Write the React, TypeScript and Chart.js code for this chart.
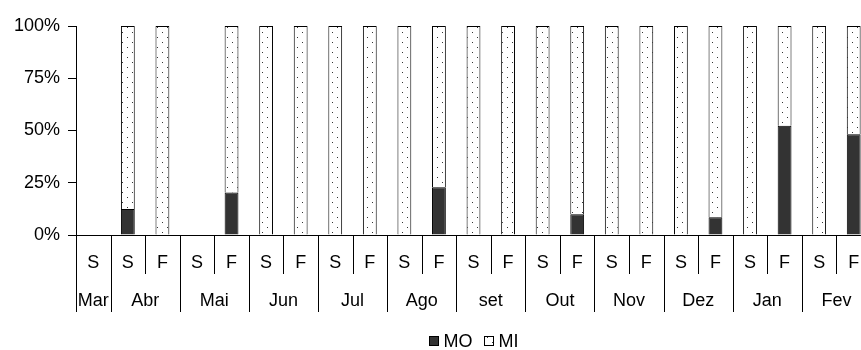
import React, { useEffect, useRef } from "react";
import { Chart, registerables } from "chart.js";

Chart.register(...registerables);

// Sampling periods (S / F) and the month each one belongs to
const periods = ["S", "S", "F", "S", "F", "S", "F", "S", "F", "S", "F", "S", "F", "S", "F", "S", "F", "S", "F", "S", "F", "S", "F"];
const periodMonths = ["Mar", "Abr", "Abr", "Mai", "Mai", "Jun", "Jun", "Jul", "Jul", "Ago", "Ago", "set", "set", "Out", "Out", "Nov", "Nov", "Dez", "Dez", "Jan", "Jan", "Fev", "Fev"];

// Share of each fraction (%)
const moValues = [null, 12.5, 0, null, 20.3, 0, 0, 0, 0, 0, 22.9, 0, 0, 0, 9.9, 0, 0, 0, 8.5, 0, 52.3, 0, 48.2];
const miValues = [null, 87.5, 100, null, 79.7, 100, 100, 100, 100, 100, 77.1, 100, 100, 100, 90.1, 100, 100, 100, 91.5, 100, 47.7, 100, 51.8];

const yTicks = [0, 25, 50, 75, 100];

const FONT = '"Liberation Sans", Arial, sans-serif';
const FONT_SIZE = 18;

function makeDotPattern(): CanvasPattern | string {
  const c = document.createElement("canvas");
  c.width = 10;
  c.height = 10;
  const g = c.getContext("2d");
  if (!g) return "#fff";
  g.fillStyle = "#ffffff";
  g.fillRect(0, 0, 10, 10);
  g.fillStyle = "#333333";
  g.fillRect(2, 2, 1, 1);
  g.fillRect(7, 7, 1, 1);
  const p = g.createPattern(c, "repeat");
  return p || "#fff";
}

// Two-level category axis (period / month) plus a legend centred under the plot
const groupedAxisPlugin = {
  id: "groupedAxis",
  afterDraw(chart: any) {
    const { ctx, chartArea } = chart;
    const xs = chart.scales.x;
    const n = periods.length;
    const step = xs.getPixelForValue(1) - xs.getPixelForValue(0);
    const left = xs.getPixelForValue(0) - step / 2;
    const base = chartArea.bottom;
    const shortEnd = base + 39;
    const longEnd = base + 77;

    ctx.save();
    ctx.strokeStyle = "#000";
    ctx.lineWidth = 1;
    for (let i = 0; i <= n; i++) {
      const x = Math.round(left + i * step) + 0.5;
      const isMonthEdge = i === 0 || i === n || periodMonths[i - 1] !== periodMonths[i];
      ctx.beginPath();
      ctx.moveTo(x, base);
      ctx.lineTo(x, isMonthEdge ? longEnd : shortEnd);
      ctx.stroke();
    }

    ctx.fillStyle = "#000";
    ctx.font = `${FONT_SIZE}px ${FONT}`;
    ctx.textAlign = "center";
    ctx.textBaseline = "middle";
    for (let i = 0; i < n; i++) {
      ctx.fillText(periods[i], xs.getPixelForValue(i), base + 28);
    }
    let start = 0;
    for (let i = 1; i <= n; i++) {
      if (i === n || periodMonths[i] !== periodMonths[start]) {
        const cx = (xs.getPixelForValue(start) + xs.getPixelForValue(i - 1)) / 2;
        ctx.fillText(periodMonths[start], cx, base + 66);
        start = i;
      }
    }

    // legend
    const box = 10;
    const gap = 5;
    const itemGap = 11;
    const items = chart.data.datasets.map((d: any) => ({
      label: d.label,
      fill: d.backgroundColor,
    }));
    const widths = items.map((it: any) => box + gap + ctx.measureText(it.label).width);
    const total = widths.reduce((a: number, b: number) => a + b, 0) + itemGap * (items.length - 1);
    let lx = (chartArea.left + chartArea.right) / 2 - total / 2;
    const ly = 341;
    ctx.textAlign = "left";
    items.forEach((it: any, k: number) => {
      ctx.fillStyle = it.fill;
      ctx.fillRect(Math.round(lx), ly - box / 2, box, box);
      ctx.strokeStyle = "#000";
      ctx.strokeRect(Math.round(lx) + 0.5, ly - box / 2 + 0.5, box - 1, box - 1);
      ctx.fillStyle = "#000";
      ctx.fillText(it.label, lx + box + gap, ly + 1);
      lx += widths[k] + itemGap;
    });
    ctx.restore();
  },
};

export default function App() {
  const canvasRef = useRef<HTMLCanvasElement | null>(null);

  useEffect(() => {
    const canvas = canvasRef.current;
    if (!canvas) return;
    const dots = makeDotPattern();
    const chart = new Chart(canvas, {
      type: "bar",
      data: {
        labels: periods.map((p, i) => `${periodMonths[i]} ${p}`),
        datasets: [
          {
            label: "MO",
            data: moValues,
            backgroundColor: "#333333",
            borderColor: "#000000",
            borderWidth: 1,
            barPercentage: 0.4,
            categoryPercentage: 1,
          },
          {
            label: "MI",
            data: miValues,
            backgroundColor: dots as any,
            borderColor: "#000000",
            borderWidth: 1,
            barPercentage: 0.4,
            categoryPercentage: 1,
          },
        ],
      },
      options: {
        animation: false,
        responsive: false,
        devicePixelRatio: 1,
        layout: { padding: { top: 26, right: 0, bottom: 0, left: 0 } },
        plugins: {
          legend: { display: false },
          tooltip: { enabled: false },
        },
        scales: {
          x: {
            stacked: true,
            grid: { display: false },
            border: { display: true, color: "#000", width: 1 },
            ticks: { display: false },
            afterFit: (s: any) => {
              s.height = 115;
            },
          },
          y: {
            stacked: true,
            min: 0,
            max: 100,
            afterBuildTicks: (s: any) => {
              s.ticks = yTicks.map((v) => ({ value: v }));
            },
            afterFit: (s: any) => {
              s.width = 76;
            },
            grid: {
              drawOnChartArea: false,
              drawTicks: true,
              tickLength: 8,
              color: "#000",
            },
            border: { display: true, color: "#000", width: 1 },
            ticks: {
              padding: 8,
              color: "#000",
              font: { family: FONT, size: FONT_SIZE },
              callback: (v: any) => `${v}%`,
            },
          },
        },
      },
      plugins: [groupedAxisPlugin],
    });
    return () => chart.destroy();
  }, []);

  return (
    <div
      style={{
        position: "fixed",
        left: 0,
        top: 0,
        width: 861,
        height: 350,
        overflow: "hidden",
        background: "#fff",
      }}
    >
      <canvas ref={canvasRef} width={871} height={350} style={{ display: "block" }} />
    </div>
  );
}
